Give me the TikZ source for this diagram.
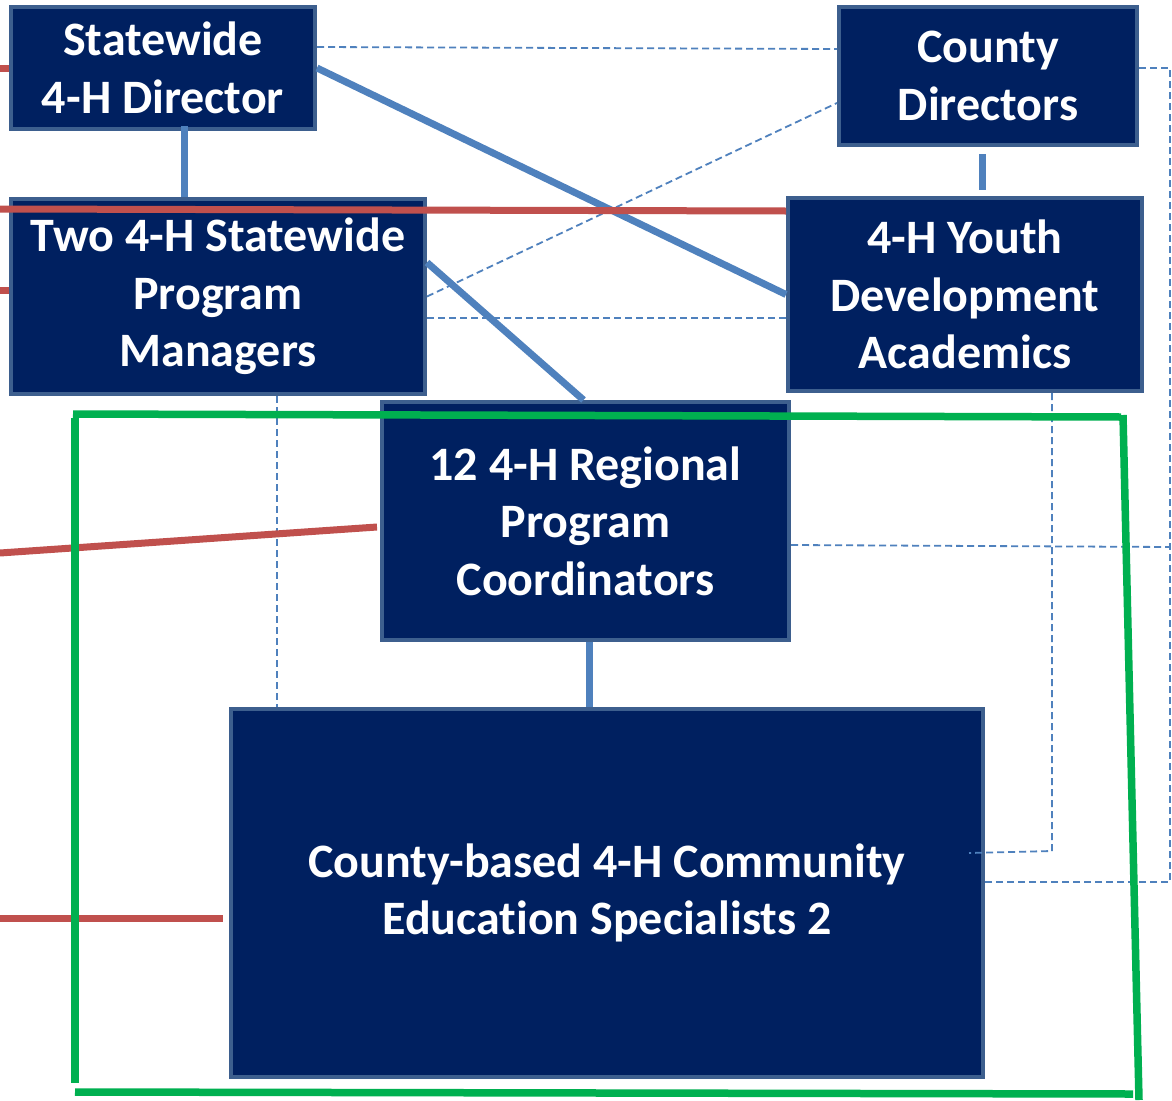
\documentclass[tikz,border=0pt]{standalone}
\usepackage{fontspec}
\setmainfont{Carlito}[Ligatures={NoCommon}]
\definecolor{navy}{HTML}{002060}
\definecolor{boxline}{HTML}{3D5F8E}
\definecolor{linkblue}{HTML}{4F81BD}
\definecolor{linkred}{HTML}{C0504D}
\definecolor{framegreen}{HTML}{00B050}
\tikzset{
  orgbox/.style={draw=boxline, line width=4pt, fill=navy, text=white,
    font=\bfseries\fontsize{48}{57.5}\selectfont, align=center, inner sep=0pt},
  solidlink/.style={draw=linkblue, line width=7pt},
  redlink/.style={draw=linkred, line width=7pt},
  dashlink/.style={draw=linkblue, line width=1.8pt, dash pattern=on 7pt off 4pt},
  greenframe/.style={draw=framegreen, line width=7.5pt},
}
\begin{document}
\begin{tikzpicture}[x=1pt,y=-1pt]
\useasboundingbox (0,0) rectangle (1172,1100);
\fill[white] (0,0) rectangle (1172,1100);

% boxes
\node[orgbox, minimum width=304pt, minimum height=122pt] (A) at (163,68) {Statewide\\4-H Director};
\node[orgbox, minimum width=298pt, minimum height=138pt] (B) at (988,76) {County\\Directors};
\node[orgbox, minimum width=414pt, minimum height=195pt] (C) at (218,296.5) {Two 4-H Statewide\\Program\\Managers};
\node[orgbox, minimum width=354pt, minimum height=193pt] (D) at (965,294.5) {4-H Youth\\Development\\Academics};
\node[orgbox, minimum width=407pt, minimum height=238pt] (E) at (585.5,521) {12 4-H Regional\\Program\\Coordinators};
\node[orgbox, minimum width=752pt, minimum height=368pt] (F) at (607,893) {County-based 4-H Community\\Education Specialists 2};

% free ends
\coordinate (L1) at (0,68);
\coordinate (L2) at (0,209);
\coordinate (L3) at (0,290);
\coordinate (L4) at (0,553);
\coordinate (L5) at (0,918);
\coordinate (R1) at (1170,68);
\coordinate (R2) at (1170,547);
\coordinate (R3) at (1170,882);

% dashed links
\draw[dashlink] ([yshift=21pt]A.east) -- ([yshift=27pt]B.west);
\draw[dashlink] (C.east) -- ([yshift=-27pt]B.west);
\draw[dashlink] ([yshift=-21.5pt]C.east) -- ([yshift=-23.5pt]D.west);
\draw[dashlink] ([xshift=59pt]C.south) -- ([xshift=-330pt]F.north);
\draw[dashlink] ([xshift=87pt]D.south) -- ([xshift=87pt,yshift=-458pt]D.south) -- ([xshift=-16pt,yshift=40pt]F.east);
\draw[dashlink] ([yshift=8pt]B.east) -- (R1) -- (R3) -- ([yshift=11pt]F.east);
\draw[dashlink] ([yshift=-24pt]E.east) -- (R2);

% solid blue links
\draw[solidlink] ([xshift=21pt,yshift=5pt]A.south) -- ([xshift=-34pt]C.north);
\draw[solidlink] (A.east) -- (D.west);
\draw[solidlink] ([yshift=34pt]C.east) -- ([xshift=-2pt]E.north);
\draw[solidlink] ([xshift=-6pt,yshift=-7pt]B.south) -- ([xshift=17pt,yshift=6pt]D.north);
\draw[solidlink] ([xshift=3.5pt]E.south) -- ([xshift=-18pt]F.north);

% red links
\draw[redlink] (L1) -- (A.west);
\draw[redlink] (L2) -- ([yshift=83.5pt]D.west);
\draw[redlink] (L3) -- ([yshift=6.5pt]C.west);
\draw[redlink] (L4) -- ([xshift=-3pt,yshift=-6pt]E.west);
\draw[redlink] (L5) -- ([xshift=-6pt,yshift=-25pt]F.west);

% green frame
\coordinate (G1) at (73,414);
\coordinate (G2) at (1121,417);
\coordinate (G3) at (1123,415);
\coordinate (G4) at (1139,1100);
\coordinate (G5) at (75,1092);
\coordinate (G6) at (1133,1094);
\coordinate (G7) at (75,418);
\coordinate (G8) at (75,1083);
\draw[greenframe] (G1) -- (G2);
\draw[greenframe] (G3) -- (G4);
\draw[greenframe] (G5) -- (G6);
\draw[greenframe] (G7) -- (G8);
\end{tikzpicture}
\end{document}
